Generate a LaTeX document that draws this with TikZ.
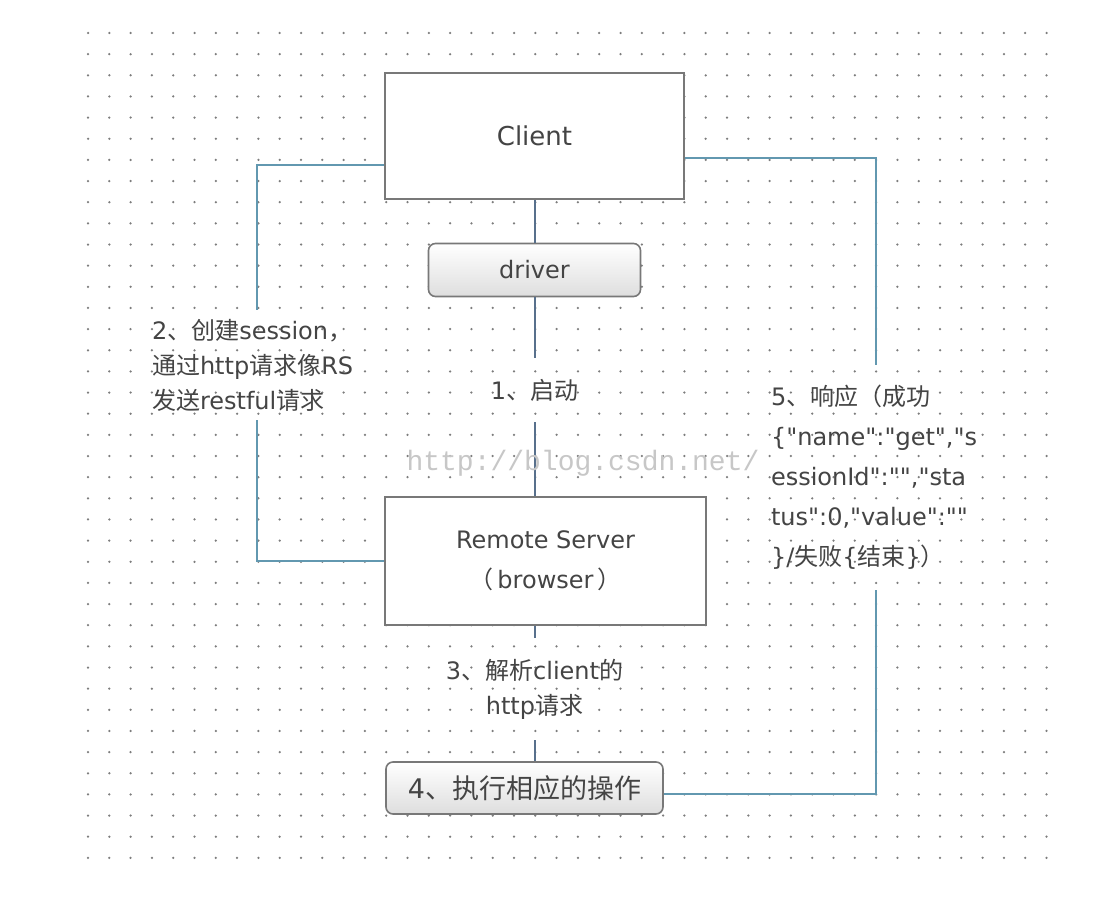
\documentclass[tikz,border=0pt]{standalone}
\usepackage{fontspec}
\setmainfont{DejaVu Sans}[Ligatures=TeXOff]
\newfontfamily\zh{Noto Sans CJK SC}
\newfontfamily\urlfont{Liberation Mono}
\usepackage{tikz}
\usetikzlibrary{shapes,arrows,positioning}
\definecolor{boxgray}{RGB}{120,120,120}
\definecolor{txtgray}{RGB}{68,68,68}
\definecolor{linkblue}{RGB}{98,152,176}
\definecolor{stemblue}{RGB}{88,112,140}
\definecolor{dotgray}{RGB}{125,125,125}
\tikzstyle{plainbox}=[rectangle, draw=boxgray, line width=1.6pt, fill=white, align=center, text=txtgray, font=\fontsize{24}{40}\selectfont]
\tikzstyle{grayblock}=[rectangle, rounded corners=7pt, draw=boxgray, line width=1.6pt, top color=white, bottom color=black!13, align=center, text=txtgray]
\tikzstyle{steplabel}=[inner sep=0pt, text=txtgray, font=\fontsize{24}{35}\selectfont]
\tikzstyle{link}=[draw=linkblue, line width=2pt]
\tikzstyle{stem}=[draw=stemblue, line width=2pt]

\begin{document}
\begin{tikzpicture}[x=1pt,y=-1pt]
\useasboundingbox[fill=white] (0,0) rectangle (1099,907);

% dotted grid
\foreach \i in {0,...,45}
  \foreach \j in {0,...,39}
    \fill[dotgray] (88+\i*21.3,33+\j*21.15) circle (1.25pt);

\node[plainbox, minimum width=299pt, minimum height=126pt, font=\fontsize{26}{30}\selectfont] (client) at (534.5,136) {Client};
\node[grayblock, minimum width=212pt, minimum height=53pt, font=\fontsize{24}{28}\selectfont] (driver) at (534.5,270) {driver};
\node[plainbox, minimum width=321pt, minimum height=128pt] (server) at (545.5,561) {Remote Server\\{\zh （}\,browser\,{\zh ）}};
\node[grayblock, minimum width=277pt, minimum height=52pt, font=\fontsize{27}{30}\selectfont] (op) at (524.5,788) {4{\zh 、执行相应的操作}};

\node[steplabel, align=center, minimum height=64pt] (start) at (534.5,390) {1{\zh 、启动}};
\node[steplabel, align=center, minimum height=102pt] (parse) at (534.5,689) {3{\zh 、解析}client{\zh 的}\\http{\zh 请求}};
\node[steplabel, align=left, text width=210pt, minimum height=110pt] (create) at (257,365) {2{\zh 、创建}session{\zh ，}\\{\zh 通过}http{\zh 请求像}RS\\{\zh 发送}restful{\zh 请求}};
\node[steplabel, align=left, text width=210pt, minimum height=225pt, font=\fontsize{24}{40}\selectfont] (reply) at (876,477.5) {5{\zh 、响应（成功}\\\{"name":"get","s\\essionId":"","sta\\tus":0,"value":""\\\}/{\zh 失败}\{{\zh 结束}\}{\zh ）}};

\draw[stem] (client.south) -- (driver.north);
\draw[stem] (driver.south) -- (start.north);
\draw[stem] (start.south) -- (start.south |- server.north);
\draw[stem] (start.south |- server.south) -- (parse.north);
\draw[stem] (parse.south) -- (parse.south |- op.north);
\draw[link] ([yshift=-29pt]client.west) -| (create.north);
\draw[link] (create.south) |- (server.west);
\draw[link] ([yshift=-22pt]client.east) -| (reply.north);
\draw[link] (reply.south) |- ([yshift=-6pt]op.east);

\node[text=black!22, font=\urlfont\fontsize{28}{30}\selectfont] (mark) at (583,463) {http://blog.csdn.net/};

\end{tikzpicture}
\end{document}
